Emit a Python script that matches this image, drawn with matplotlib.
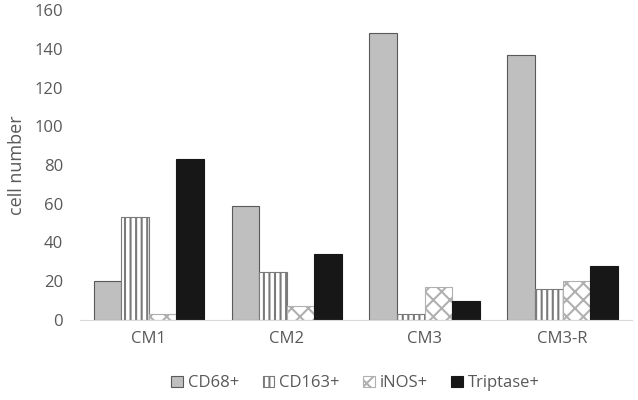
import numpy as np
import matplotlib.pyplot as plt

plt.rcParams['font.family'] = ['Open Sans', 'DejaVu Sans']
plt.rcParams['hatch.linewidth'] = 1.5

categories = ['CM1', 'CM2', 'CM3', 'CM3-R']
cd68 = [20, 59, 148, 137]
cd163 = [53, 25, 3, 16]
inos = [3, 7, 17, 20]
triptase = [83, 34, 10, 28]

series = [
    ('CD68+', cd68, '#bfbfbf', None, '#595959'),
    ('CD163+', cd163, 'white', '|||', '#7a7a7a'),
    ('iNOS+', inos, 'white', 'xx', '#b0b0b0'),
    ('Triptase+', triptase, '#171717', None, '#171717'),
]

fig, ax = plt.subplots(figsize=(6.38, 4.0), dpi=100)
fig.subplots_adjust(left=0.125, right=0.99, top=0.975, bottom=0.2)

x = np.arange(len(categories))
w = 0.2
for i, (name, vals, fc, hatch, ec) in enumerate(series):
    ax.bar(x + (i - 1.5) * w, vals, w, color=fc, hatch=hatch,
           edgecolor=ec, linewidth=0.8, label=name)

ax.set_xlim(-0.5, len(categories) - 0.5)
ax.set_ylim(0, 160)
ax.set_yticks(range(0, 161, 20))
ax.set_xticks(x)
ax.set_xticklabels(categories)
ax.set_ylabel('cell number', color='#595959', fontsize=13, labelpad=6)
ax.tick_params(colors='#595959', labelsize=12, length=0)
ax.tick_params(axis='y', pad=12)
ax.tick_params(axis='x', pad=8)
for s in ['top', 'right', 'left']:
    ax.spines[s].set_visible(False)
ax.spines['bottom'].set_color('#d9d9d9')

ax.legend(loc='upper center', bbox_to_anchor=(0.5, -0.13), ncol=4, frameon=False,
          fontsize=12, labelcolor='#595959', handlelength=0.7, handleheight=0.7,
          handletextpad=0.3, columnspacing=1.4)

fig.savefig('out.png')
